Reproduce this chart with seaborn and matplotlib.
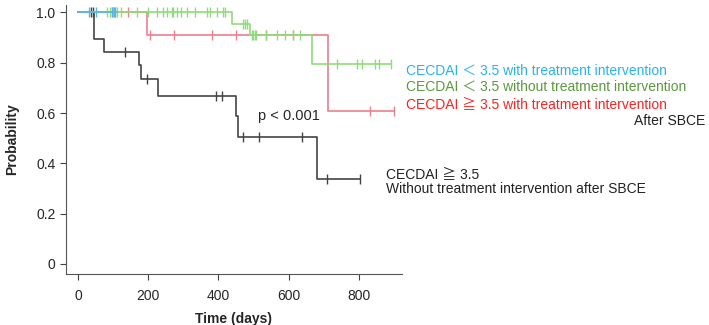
import numpy as np
import pandas as pd
import matplotlib
matplotlib.use('Agg')
import matplotlib.pyplot as plt
import seaborn as sns

# Kaplan-Meier curves (step times / survival / censor times)
black_t = [0, 46, 74, 175, 180, 229, 450, 456, 680, 802]
black_s = [1.0, 0.894, 0.842, 0.79, 0.737, 0.669, 0.59, 0.505, 0.337, 0.337]
black_c = [37, 43, 134, 196, 392, 409, 469, 515, 638, 710, 802]

red_t = [0, 196, 711, 901]
red_s = [1.0, 0.911, 0.607, 0.607]
red_c = [142, 205, 274, 381, 449, 537, 613, 832, 901]

green_t = [0, 440, 490, 668, 891]
green_s = [1.0, 0.955, 0.909, 0.794, 0.794]
green_c = [82, 91, 96, 101, 105, 110, 124, 167, 200, 224, 243, 253, 267, 270,
           281, 295, 310, 333, 367, 376, 395, 414, 419, 469, 476, 482,
           495, 499, 503, 507, 535, 566, 590, 613, 633,
           737, 794, 808, 846, 858, 891]

blue_t = [0, 112]
blue_s = [1.0, 1.0]
blue_c = [33, 52, 98, 102, 106]

y_ticks = [0, 0.2, 0.4, 0.6, 0.8, 1.0]
y_labels = ['0', '0.2', '0.4', '0.6', '0.8', '1.0']
x_ticks = [0, 200, 400, 600, 800]

sns.set_style('ticks')
plt.rcParams['font.family'] = ['Liberation Sans', 'Noto Sans CJK JP', 'DejaVu Sans']

fig = plt.figure(figsize=(7.09, 3.25), dpi=100)
ax = fig.add_axes([0.093, 0.157, 0.474, 0.828])


def surv_at(t, times, surv):
    idx = np.searchsorted(times, t, side='right') - 1
    return np.asarray(surv)[idx]


groups = [
    (red_t, red_s, red_c, '#ec7f8c'),
    (black_t, black_s, black_c, '#444444'),
    (green_t, green_s, green_c, '#8fdc7a'),
    (blue_t, blue_s, blue_c, '#5ab4e6'),
]

for t, s, c, col in groups:
    df = pd.DataFrame({'time': t, 'prob': s})
    sns.lineplot(data=df, x='time', y='prob', drawstyle='steps-post',
                 color=col, linewidth=1.2, ax=ax)
    cy = surv_at(c, t, s)
    ax.plot(c, cy, linestyle='none', marker='|', markersize=7,
            markeredgewidth=1.0, color=col)

ax.set_xlim(-34, 923)
ax.set_ylim(-0.04, 1.03)
ax.set_xticks(x_ticks)
ax.set_yticks(y_ticks)
ax.set_yticklabels(y_labels)
ax.tick_params(labelsize=10, color='#444444', length=4)
ax.tick_params(axis='x', pad=7)
sns.despine(ax=ax)
for sp in ['left', 'bottom']:
    ax.spines[sp].set_color('#555555')

ax.set_xlabel('Time (days)', fontsize=10, fontweight='bold', labelpad=6)
ax.set_ylabel('Probability', fontsize=10, fontweight='bold', labelpad=12)

ax.text(513, 0.59, 'p < 0.001', fontsize=10.5, va='center', ha='left')

fs = 10
fig.text(406 / 709, 1 - 71 / 325, 'CECDAI \uff1c 3.5 with treatment intervention',
         color='#27b4ec', fontsize=fs, va='center')
fig.text(406 / 709, 1 - 87 / 325, 'CECDAI \uff1c 3.5 without treatment intervention',
         color='#5a9a3c', fontsize=fs, va='center')
fig.text(406 / 709, 1 - 104 / 325, 'CECDAI \u2267 3.5 with treatment intervention',
         color='#ff2020', fontsize=fs, va='center')
fig.text(705 / 709, 1 - 121 / 325, 'After SBCE',
         color='#222222', fontsize=fs, va='center', ha='right')
fig.text(386 / 709, 1 - 174 / 325, 'CECDAI \u2267 3.5',
         color='#222222', fontsize=fs, va='center')
fig.text(386 / 709, 1 - 189 / 325, 'Without treatment intervention after SBCE',
         color='#222222', fontsize=fs, va='center')

fig.savefig('out.png', dpi=100)
